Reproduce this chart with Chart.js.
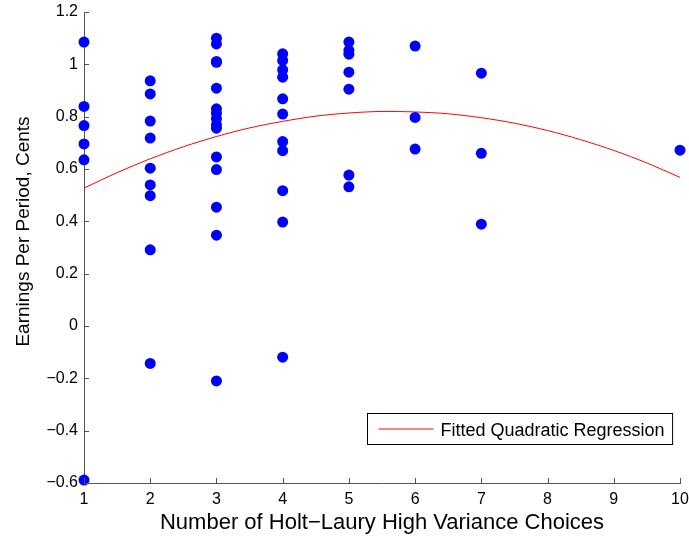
<!DOCTYPE html>
<html>
<head>
<meta charset="utf-8">
<script src="https://cdn.jsdelivr.net/npm/chart.js@4/dist/chart.umd.min.js"></script>
<style>
  html, body { margin: 0; padding: 0; background: #fff; }
  #wrap { width: 689px; height: 538px; }
</style>
</head>
<body>
<div id="wrap"><canvas id="c" width="689" height="538"></canvas></div>
<script>
// ---- data ----
const xTitle = "Number of Holt\u2212Laury High Variance Choices";
const yTitle = "Earnings Per Period, Cents";
const fitLabel = "Fitted Quadratic Regression";

const xTicks = [1, 2, 3, 4, 5, 6, 7, 8, 9, 10];
const yTicks = [-0.6, -0.4, -0.2, 0, 0.2, 0.4, 0.6, 0.8, 1, 1.2];

const choices1 = [1.085, 0.839, 0.766, 0.696, 0.635, -0.589];
const choices2 = [0.937, 0.887, 0.783, 0.718, 0.603, 0.539, 0.498, 0.291, -0.143];
const choices3 = [1.100, 1.078, 1.011, 1.008, 0.909, 0.830, 0.813, 0.792, 0.769, 0.756, 0.646, 0.598, 0.454, 0.347, -0.210];
const choices4 = [1.040, 1.015, 0.979, 0.951, 0.868, 0.810, 0.705, 0.670, 0.517, 0.397, -0.119];
const choices5 = [1.085, 1.053, 1.039, 0.970, 0.905, 0.577, 0.532];
const choices6 = [1.070, 0.797, 0.676];
const choices7 = [0.966, 0.660, 0.389];
const choices10 = [0.672];

const fitX = [1, 1.5, 2, 2.5, 3, 3.5, 4, 4.5, 5, 5.5, 6, 6.5, 7, 7.5, 8, 8.5, 9, 9.5, 10];
const fitY = [0.527, 0.586, 0.639, 0.685, 0.724, 0.757, 0.782, 0.802, 0.814, 0.820, 0.818, 0.811, 0.796, 0.775, 0.747, 0.712, 0.671, 0.623, 0.568];

// ---- build library structures ----
const groups = [[1, choices1], [2, choices2], [3, choices3], [4, choices4], [5, choices5], [6, choices6], [7, choices7], [10, choices10]];
const scatterPts = [];
groups.forEach(([x, ys]) => ys.forEach(y => scatterPts.push({x: x, y: y})));
const fitPts = fitX.map((x, i) => ({x: x, y: fitY[i]}));

const FONT = "'Liberation Sans', Arial, Helvetica, sans-serif";
const AXIS_COLOR = '#555555';

const inwardTicks = {
  id: 'inwardTicks',
  afterDatasetsDraw(chart) {
    const {ctx, chartArea, scales} = chart;
    const len = 5;
    ctx.save();
    ctx.strokeStyle = AXIS_COLOR;
    ctx.lineWidth = 1;
    ctx.beginPath();
    xTicks.forEach(v => {
      const px = Math.round(scales.x.getPixelForValue(v)) + 0.5;
      ctx.moveTo(px, chartArea.bottom);
      ctx.lineTo(px, chartArea.bottom - len);
    });
    yTicks.forEach(v => {
      const py = Math.round(scales.y.getPixelForValue(v)) + 0.5;
      ctx.moveTo(chartArea.left, py);
      ctx.lineTo(chartArea.left + len, py);
    });
    ctx.stroke();
    ctx.restore();
  }
};

const yTitlePlugin = {
  id: 'yTitlePlugin',
  afterDraw(chart) {
    const {ctx, chartArea} = chart;
    const cy = (chartArea.top + chartArea.bottom) / 2 - 16;
    ctx.save();
    ctx.translate(29, cy);
    ctx.rotate(-Math.PI / 2);
    ctx.font = '19px ' + FONT;
    ctx.fillStyle = '#000';
    ctx.textAlign = 'center';
    ctx.textBaseline = 'alphabetic';
    ctx.fillText(yTitle, 0, 0);
    ctx.restore();
  }
};

const boxLegend = {
  id: 'boxLegend',
  afterDraw(chart) {
    const {ctx, chartArea} = chart;
    const ds = chart.data.datasets[1];
    ctx.save();
    ctx.font = '18px ' + FONT;
    const tw = ctx.measureText(ds.label).width;
    const lineLen = 55, padL = 11, gap = 7, padR = 8;
    const w = padL + lineLen + gap + tw + padR;
    const h = 31;
    const right = chartArea.right - 8;
    const bottom = chartArea.bottom - 39;
    const left = Math.round(right - w) + 0.5;
    const top = Math.round(bottom - h) + 0.5;
    ctx.fillStyle = '#ffffff';
    ctx.fillRect(left, top, w, h);
    ctx.strokeStyle = '#000000';
    ctx.lineWidth = 1;
    ctx.strokeRect(left, top, w, h);
    const cy = top + h / 2;
    ctx.strokeStyle = ds.borderColor;
    ctx.beginPath();
    ctx.moveTo(left + padL, cy);
    ctx.lineTo(left + padL + lineLen, cy);
    ctx.stroke();
    ctx.fillStyle = '#000000';
    ctx.textBaseline = 'alphabetic';
    ctx.textAlign = 'left';
    ctx.fillText(ds.label, left + padL + lineLen + gap, cy + 6.5);
    ctx.restore();
  }
};

new Chart(document.getElementById('c'), {
  type: 'scatter',
  data: {
    datasets: [
      {
        label: 'Earnings',
        data: scatterPts,
        backgroundColor: '#0000ff',
        borderColor: '#0000ff',
        pointRadius: 5.5,
        pointHoverRadius: 5.5,
        borderWidth: 0,
        clip: false,
        order: 1
      },
      {
        type: 'line',
        label: fitLabel,
        data: fitPts,
        borderColor: '#ff0000',
        borderWidth: 1,
        pointRadius: 0,
        fill: false,
        tension: 0.3,
        order: 2
      }
    ]
  },
  options: {
    responsive: false,
    animation: false,
    devicePixelRatio: 1,
    layout: { padding: { top: 12, right: 9, left: 0, bottom: 0 } },
    plugins: {
      legend: { display: false },
      tooltip: { enabled: false }
    },
    scales: {
      x: {
        type: 'linear',
        min: 1, max: 10,
        afterBuildTicks(scale) { scale.ticks = xTicks.map(v => ({value: v})); },
        afterFit(scale) { scale.height = 55; scale.paddingLeft = 0; scale.paddingRight = 0; },
        grid: { display: false, drawTicks: false },
        border: { display: true, color: AXIS_COLOR, width: 1 },
        ticks: {
          color: '#000',
          font: { family: FONT, size: 16 },
          padding: 7,
          maxRotation: 0,
          callback: v => String(v)
        },
        title: {
          display: true,
          text: xTitle,
          color: '#000',
          font: { family: FONT, size: 22 },
          padding: { top: 0, bottom: 2 }
        }
      },
      y: {
        type: 'linear',
        min: -0.6, max: 1.2,
        afterBuildTicks(scale) { scale.ticks = yTicks.map(v => ({value: v})); },
        afterFit(scale) { scale.width = 84; scale.paddingTop = 0; scale.paddingBottom = 0; },
        grid: { display: false, drawTicks: false },
        border: { display: true, color: AXIS_COLOR, width: 1 },
        ticks: {
          color: '#000',
          font: { family: FONT, size: 16 },
          padding: 6,
          callback: v => {
            const s = String(Math.round(v * 10) / 10);
            return s.replace('-', '\u2212');
          }
        },
        title: { display: false, text: yTitle }
      }
    }
  },
  plugins: [inwardTicks, yTitlePlugin, boxLegend]
});
</script>
</body>
</html>
